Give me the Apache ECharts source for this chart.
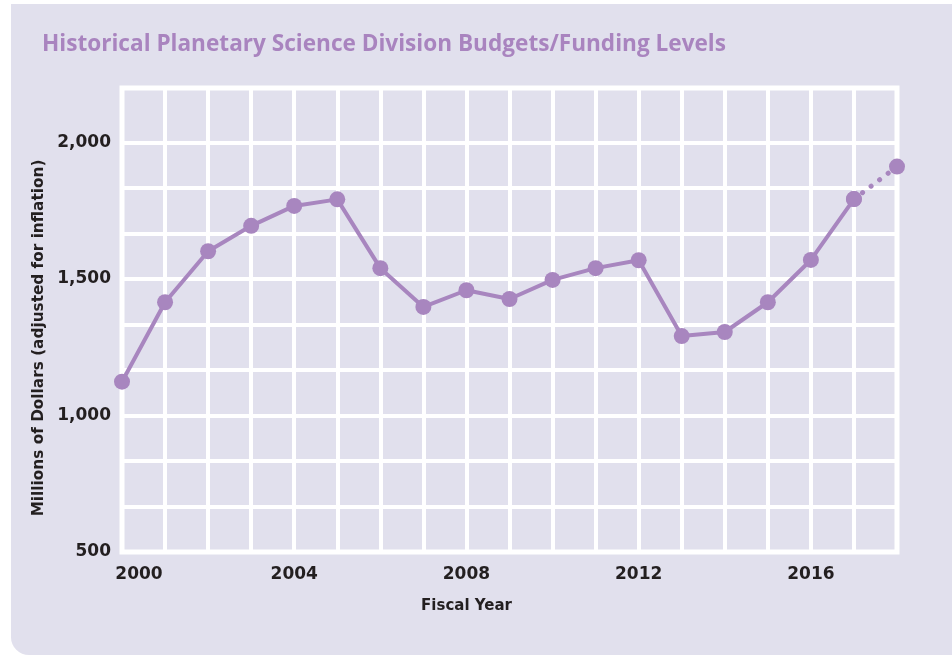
<!DOCTYPE html>
<html>
<head>
<meta charset="utf-8">
<script src="https://cdn.jsdelivr.net/npm/echarts@6/dist/echarts.min.js"></script>
<style>
  html, body { margin: 0; padding: 0; background: #ffffff; }
  #panel { position: absolute; left: 11px; top: 4px; width: 941px; height: 651px; background: #e1e0ed; border-bottom-left-radius: 18px; }
  #chart { position: absolute; left: 0; top: 0; width: 952px; height: 655px; }
</style>
</head>
<body>
<div id="panel"></div>
<div id="chart"></div>
<script>
// ---- data ----
const titleText = 'Historical Planetary Science Division Budgets/Funding Levels';
const xAxisName = 'Fiscal Year';
const yAxisName = 'Millions of Dollars (adjusted for inflation)';
const years = [2000, 2001, 2002, 2003, 2004, 2005, 2006, 2007, 2008, 2009, 2010, 2011, 2012, 2013, 2014, 2015, 2016, 2017];
const budgets = [1124, 1415, 1602, 1695, 1768, 1792, 1540, 1398, 1459, 1427, 1497, 1540, 1569, 1291, 1306, 1415, 1570, 1793];
const projectedYears = [2017, 2018];
const projectedBudgets = [1793, 1912];
const xTickYears = [2000, 2004, 2008, 2012, 2016];
const xTickLabels = ['2000', '2004', '2008', '2012', '2016'];
const yTickValues = [500, 1000, 1500, 2000];
const yTickLabels = ['500', '1,000', '1,500', '2,000'];
const yGridValues = [500, 666.667, 833.333, 1000, 1166.667, 1333.333, 1500, 1666.667, 1833.333, 2000];

const purple = '#a886bf';
const ink = '#231f20';
const labelFont = 'DejaVu Sans';

const chart = echarts.init(document.getElementById('chart'), null, { renderer: 'canvas' });
const option = {
  backgroundColor: 'transparent',
  animation: false,
  title: {
    text: titleText,
    left: 37,
    top: 28,
    textStyle: { fontFamily: 'Open Sans', fontWeight: 'bold', fontSize: 22.6, color: '#a984bf' }
  },
  grid: {
    left: 122, right: 55, top: 88, bottom: 103,
    show: true, borderColor: '#ffffff', borderWidth: 5, backgroundColor: 'transparent'
  },
  xAxis: {
    type: 'value', min: 2000, max: 2018, interval: 1,
    axisLine: { show: false }, axisTick: { show: false },
    splitLine: { show: true, lineStyle: { color: '#ffffff', width: 4 } },
    axisLabel: {
      margin: 14,
      fontFamily: labelFont, fontWeight: 'bold', fontSize: 17, color: ink,
      formatter: function (v) {
        const i = xTickYears.indexOf(Math.round(v));
        if (i < 0) return '';
        return i === 0 ? '{first|' + xTickLabels[i] + '}' : xTickLabels[i];
      },
      rich: {
        first: { fontFamily: labelFont, fontWeight: 'bold', fontSize: 17, color: ink, padding: [0, 0, 0, 34] }
      }
    },
    name: xAxisName, nameLocation: 'middle', nameGap: 47,
    nameTextStyle: { fontFamily: labelFont, fontWeight: 'bold', fontSize: 15, color: ink, padding: [0, 86, 0, 0] }
  },
  yAxis: {
    type: 'value', min: 500, max: 2200,
    axisLine: { show: false },
    axisTick: { show: false, customValues: yGridValues },
    splitLine: { show: true, lineStyle: { color: '#ffffff', width: 4 } },
    axisLabel: {
      margin: 11,
      customValues: yTickValues,
      fontFamily: labelFont, fontWeight: 'bold', fontSize: 17, color: ink,
      formatter: function (v) {
        for (let i = 0; i < yTickValues.length; i++) {
          if (Math.abs(v - yTickValues[i]) < 1e-6) return yTickLabels[i];
        }
        return '';
      }
    },
    name: yAxisName, nameLocation: 'middle', nameGap: 74, nameRotate: 90,
    nameTextStyle: { fontFamily: labelFont, fontWeight: 'bold', fontSize: 15.3, color: ink, padding: [0, 36, 0, 0] }
  },
  series: [
    {
      type: 'line',
      data: projectedYears.map((y, i) => [y, projectedBudgets[i]]),
      symbol: 'circle', symbolSize: 16,
      itemStyle: { color: purple },
      lineStyle: { color: purple, width: 5, type: [0.1, 10.6], cap: 'round' },
      z: 2
    },
    {
      type: 'line',
      data: years.map((y, i) => [y, budgets[i]]),
      symbol: 'circle', symbolSize: 16,
      itemStyle: { color: purple },
      lineStyle: { color: purple, width: 4 },
      z: 3
    }
  ]
};
chart.setOption(option);
</script>
</body>
</html>
